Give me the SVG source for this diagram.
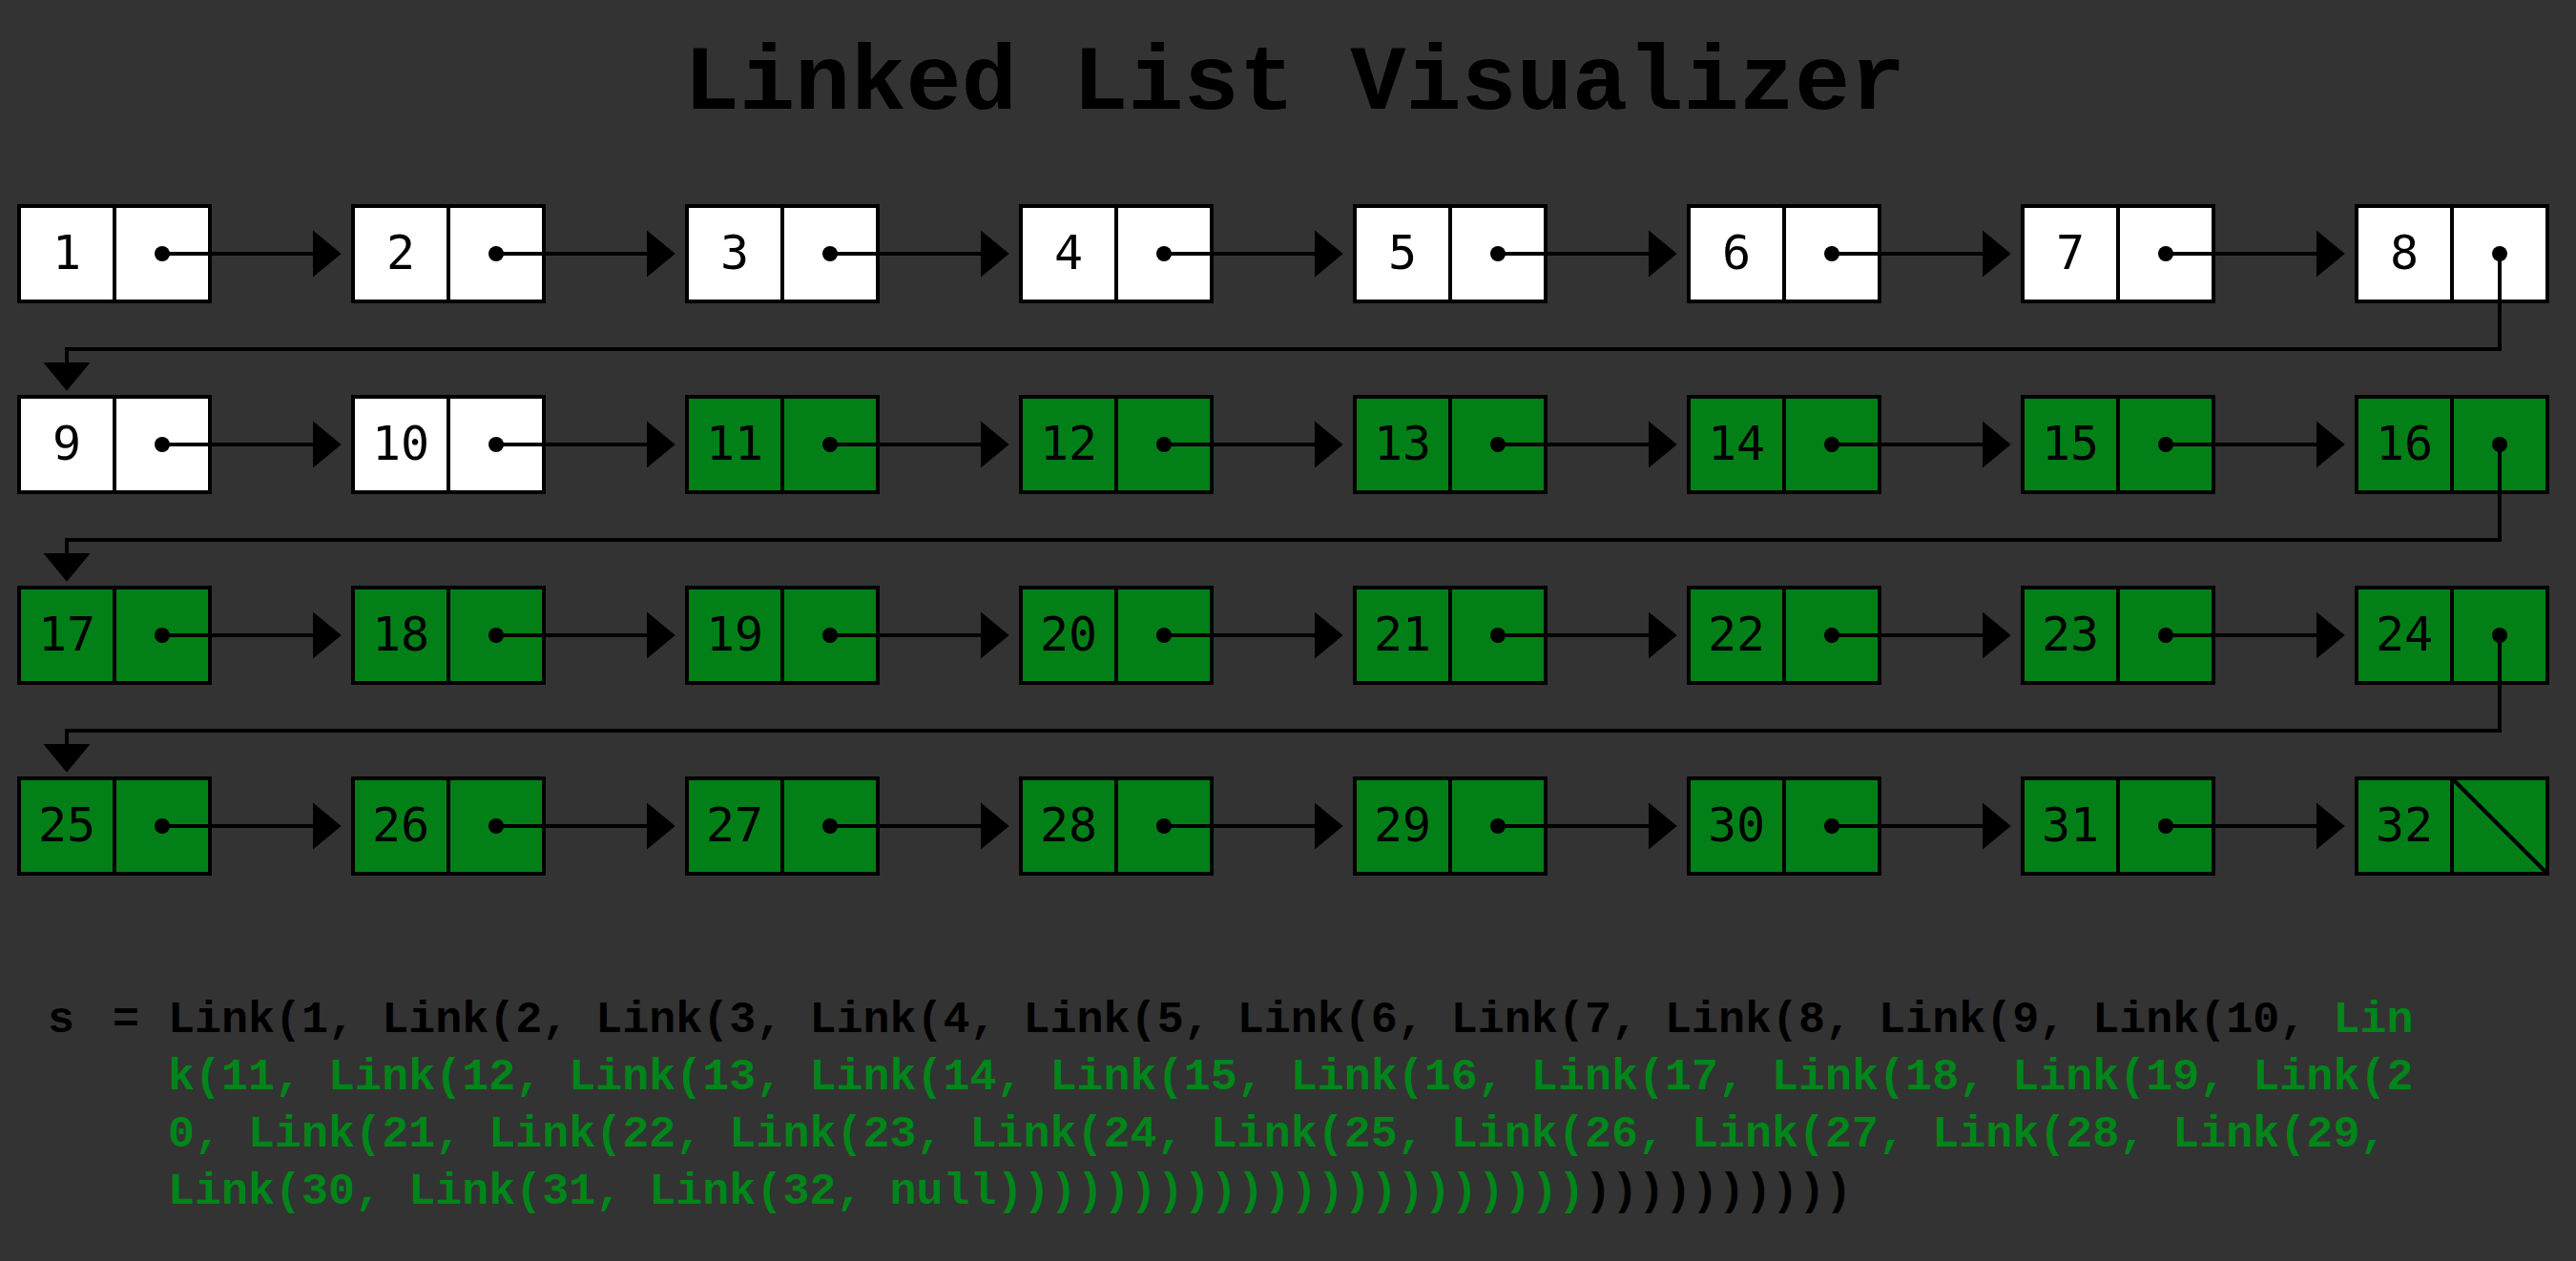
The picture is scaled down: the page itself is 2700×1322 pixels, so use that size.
<svg xmlns="http://www.w3.org/2000/svg" width="2700" height="1322" viewBox="0 0 2700 1322">
<defs>
<style>
.box{stroke:#000;stroke-width:4}
.w{fill:#fff}
.g{fill:#027f17}
.div{stroke:#000;stroke-width:4}
.val{font-family:"DejaVu Sans Mono",monospace;font-size:50px;fill:#000;text-anchor:middle}
.dot{fill:#000}
.conn{fill:none;stroke:#000;stroke-width:4}
.title{font-family:"Courier New","Liberation Mono",monospace;font-size:97px;font-weight:bold;fill:#000;text-anchor:middle}
.code{font-family:"Courier New","Liberation Mono",monospace;font-size:46.7px;font-weight:bold;white-space:pre}
.blk{fill:#000}
.grn{fill:#00851a}
</style>
<marker id="ah" markerUnits="userSpaceOnUse" markerWidth="30" markerHeight="50" viewBox="0 0 29 48" refX="9" refY="24" orient="auto">
<path d="M0,0 L29,24 L0,48 Z" fill="#000"/>
</marker>
</defs>
<rect width="2700" height="1322" fill="#333333"/>
<text class="title" x="1357" y="114">Linked List Visualizer</text>

<g id="node1"><rect class="box w" x="20" y="216" width="200" height="100"/><line class="div" x1="120" y1="216" x2="120" y2="316"/><text class="val" x="70" y="282">1</text><circle class="dot" cx="170" cy="266" r="8"/></g>
<g id="node2"><rect class="box w" x="370" y="216" width="200" height="100"/><line class="div" x1="470" y1="216" x2="470" y2="316"/><text class="val" x="420" y="282">2</text><circle class="dot" cx="520" cy="266" r="8"/></g>
<g id="node3"><rect class="box w" x="720" y="216" width="200" height="100"/><line class="div" x1="820" y1="216" x2="820" y2="316"/><text class="val" x="770" y="282">3</text><circle class="dot" cx="870" cy="266" r="8"/></g>
<g id="node4"><rect class="box w" x="1070" y="216" width="200" height="100"/><line class="div" x1="1170" y1="216" x2="1170" y2="316"/><text class="val" x="1120" y="282">4</text><circle class="dot" cx="1220" cy="266" r="8"/></g>
<g id="node5"><rect class="box w" x="1420" y="216" width="200" height="100"/><line class="div" x1="1520" y1="216" x2="1520" y2="316"/><text class="val" x="1470" y="282">5</text><circle class="dot" cx="1570" cy="266" r="8"/></g>
<g id="node6"><rect class="box w" x="1770" y="216" width="200" height="100"/><line class="div" x1="1870" y1="216" x2="1870" y2="316"/><text class="val" x="1820" y="282">6</text><circle class="dot" cx="1920" cy="266" r="8"/></g>
<g id="node7"><rect class="box w" x="2120" y="216" width="200" height="100"/><line class="div" x1="2220" y1="216" x2="2220" y2="316"/><text class="val" x="2170" y="282">7</text><circle class="dot" cx="2270" cy="266" r="8"/></g>
<g id="node8"><rect class="box w" x="2470" y="216" width="200" height="100"/><line class="div" x1="2570" y1="216" x2="2570" y2="316"/><text class="val" x="2520" y="282">8</text><circle class="dot" cx="2620" cy="266" r="8"/></g>

<g id="node9"><rect class="box w" x="20" y="416" width="200" height="100"/><line class="div" x1="120" y1="416" x2="120" y2="516"/><text class="val" x="70" y="482">9</text><circle class="dot" cx="170" cy="466" r="8"/></g>
<g id="node10"><rect class="box w" x="370" y="416" width="200" height="100"/><line class="div" x1="470" y1="416" x2="470" y2="516"/><text class="val" x="420" y="482">10</text><circle class="dot" cx="520" cy="466" r="8"/></g>
<g id="node11"><rect class="box g" x="720" y="416" width="200" height="100"/><line class="div" x1="820" y1="416" x2="820" y2="516"/><text class="val" x="770" y="482">11</text><circle class="dot" cx="870" cy="466" r="8"/></g>
<g id="node12"><rect class="box g" x="1070" y="416" width="200" height="100"/><line class="div" x1="1170" y1="416" x2="1170" y2="516"/><text class="val" x="1120" y="482">12</text><circle class="dot" cx="1220" cy="466" r="8"/></g>
<g id="node13"><rect class="box g" x="1420" y="416" width="200" height="100"/><line class="div" x1="1520" y1="416" x2="1520" y2="516"/><text class="val" x="1470" y="482">13</text><circle class="dot" cx="1570" cy="466" r="8"/></g>
<g id="node14"><rect class="box g" x="1770" y="416" width="200" height="100"/><line class="div" x1="1870" y1="416" x2="1870" y2="516"/><text class="val" x="1820" y="482">14</text><circle class="dot" cx="1920" cy="466" r="8"/></g>
<g id="node15"><rect class="box g" x="2120" y="416" width="200" height="100"/><line class="div" x1="2220" y1="416" x2="2220" y2="516"/><text class="val" x="2170" y="482">15</text><circle class="dot" cx="2270" cy="466" r="8"/></g>
<g id="node16"><rect class="box g" x="2470" y="416" width="200" height="100"/><line class="div" x1="2570" y1="416" x2="2570" y2="516"/><text class="val" x="2520" y="482">16</text><circle class="dot" cx="2620" cy="466" r="8"/></g>

<g id="node17"><rect class="box g" x="20" y="616" width="200" height="100"/><line class="div" x1="120" y1="616" x2="120" y2="716"/><text class="val" x="70" y="682">17</text><circle class="dot" cx="170" cy="666" r="8"/></g>
<g id="node18"><rect class="box g" x="370" y="616" width="200" height="100"/><line class="div" x1="470" y1="616" x2="470" y2="716"/><text class="val" x="420" y="682">18</text><circle class="dot" cx="520" cy="666" r="8"/></g>
<g id="node19"><rect class="box g" x="720" y="616" width="200" height="100"/><line class="div" x1="820" y1="616" x2="820" y2="716"/><text class="val" x="770" y="682">19</text><circle class="dot" cx="870" cy="666" r="8"/></g>
<g id="node20"><rect class="box g" x="1070" y="616" width="200" height="100"/><line class="div" x1="1170" y1="616" x2="1170" y2="716"/><text class="val" x="1120" y="682">20</text><circle class="dot" cx="1220" cy="666" r="8"/></g>
<g id="node21"><rect class="box g" x="1420" y="616" width="200" height="100"/><line class="div" x1="1520" y1="616" x2="1520" y2="716"/><text class="val" x="1470" y="682">21</text><circle class="dot" cx="1570" cy="666" r="8"/></g>
<g id="node22"><rect class="box g" x="1770" y="616" width="200" height="100"/><line class="div" x1="1870" y1="616" x2="1870" y2="716"/><text class="val" x="1820" y="682">22</text><circle class="dot" cx="1920" cy="666" r="8"/></g>
<g id="node23"><rect class="box g" x="2120" y="616" width="200" height="100"/><line class="div" x1="2220" y1="616" x2="2220" y2="716"/><text class="val" x="2170" y="682">23</text><circle class="dot" cx="2270" cy="666" r="8"/></g>
<g id="node24"><rect class="box g" x="2470" y="616" width="200" height="100"/><line class="div" x1="2570" y1="616" x2="2570" y2="716"/><text class="val" x="2520" y="682">24</text><circle class="dot" cx="2620" cy="666" r="8"/></g>

<g id="node25"><rect class="box g" x="20" y="816" width="200" height="100"/><line class="div" x1="120" y1="816" x2="120" y2="916"/><text class="val" x="70" y="882">25</text><circle class="dot" cx="170" cy="866" r="8"/></g>
<g id="node26"><rect class="box g" x="370" y="816" width="200" height="100"/><line class="div" x1="470" y1="816" x2="470" y2="916"/><text class="val" x="420" y="882">26</text><circle class="dot" cx="520" cy="866" r="8"/></g>
<g id="node27"><rect class="box g" x="720" y="816" width="200" height="100"/><line class="div" x1="820" y1="816" x2="820" y2="916"/><text class="val" x="770" y="882">27</text><circle class="dot" cx="870" cy="866" r="8"/></g>
<g id="node28"><rect class="box g" x="1070" y="816" width="200" height="100"/><line class="div" x1="1170" y1="816" x2="1170" y2="916"/><text class="val" x="1120" y="882">28</text><circle class="dot" cx="1220" cy="866" r="8"/></g>
<g id="node29"><rect class="box g" x="1420" y="816" width="200" height="100"/><line class="div" x1="1520" y1="816" x2="1520" y2="916"/><text class="val" x="1470" y="882">29</text><circle class="dot" cx="1570" cy="866" r="8"/></g>
<g id="node30"><rect class="box g" x="1770" y="816" width="200" height="100"/><line class="div" x1="1870" y1="816" x2="1870" y2="916"/><text class="val" x="1820" y="882">30</text><circle class="dot" cx="1920" cy="866" r="8"/></g>
<g id="node31"><rect class="box g" x="2120" y="816" width="200" height="100"/><line class="div" x1="2220" y1="816" x2="2220" y2="916"/><text class="val" x="2170" y="882">31</text><circle class="dot" cx="2270" cy="866" r="8"/></g>
<g id="node32"><rect class="box g" x="2470" y="816" width="200" height="100"/><line class="div" x1="2570" y1="816" x2="2570" y2="916"/><text class="val" x="2520" y="882">32</text><line class="div" x1="2570" y1="816" x2="2670" y2="916"/></g>

<g id="connectors">
<line class="conn" x1="170" y1="266" x2="337" y2="266" marker-end="url(#ah)"/>
<line class="conn" x1="520" y1="266" x2="687" y2="266" marker-end="url(#ah)"/>
<line class="conn" x1="870" y1="266" x2="1037" y2="266" marker-end="url(#ah)"/>
<line class="conn" x1="1220" y1="266" x2="1387" y2="266" marker-end="url(#ah)"/>
<line class="conn" x1="1570" y1="266" x2="1737" y2="266" marker-end="url(#ah)"/>
<line class="conn" x1="1920" y1="266" x2="2087" y2="266" marker-end="url(#ah)"/>
<line class="conn" x1="2270" y1="266" x2="2437" y2="266" marker-end="url(#ah)"/>
<polyline class="conn" points="2620,266 2620,366 70,366 70,389" marker-end="url(#ah)"/>
<line class="conn" x1="170" y1="466" x2="337" y2="466" marker-end="url(#ah)"/>
<line class="conn" x1="520" y1="466" x2="687" y2="466" marker-end="url(#ah)"/>
<line class="conn" x1="870" y1="466" x2="1037" y2="466" marker-end="url(#ah)"/>
<line class="conn" x1="1220" y1="466" x2="1387" y2="466" marker-end="url(#ah)"/>
<line class="conn" x1="1570" y1="466" x2="1737" y2="466" marker-end="url(#ah)"/>
<line class="conn" x1="1920" y1="466" x2="2087" y2="466" marker-end="url(#ah)"/>
<line class="conn" x1="2270" y1="466" x2="2437" y2="466" marker-end="url(#ah)"/>
<polyline class="conn" points="2620,466 2620,566 70,566 70,589" marker-end="url(#ah)"/>
<line class="conn" x1="170" y1="666" x2="337" y2="666" marker-end="url(#ah)"/>
<line class="conn" x1="520" y1="666" x2="687" y2="666" marker-end="url(#ah)"/>
<line class="conn" x1="870" y1="666" x2="1037" y2="666" marker-end="url(#ah)"/>
<line class="conn" x1="1220" y1="666" x2="1387" y2="666" marker-end="url(#ah)"/>
<line class="conn" x1="1570" y1="666" x2="1737" y2="666" marker-end="url(#ah)"/>
<line class="conn" x1="1920" y1="666" x2="2087" y2="666" marker-end="url(#ah)"/>
<line class="conn" x1="2270" y1="666" x2="2437" y2="666" marker-end="url(#ah)"/>
<polyline class="conn" points="2620,666 2620,766 70,766 70,789" marker-end="url(#ah)"/>
<line class="conn" x1="170" y1="866" x2="337" y2="866" marker-end="url(#ah)"/>
<line class="conn" x1="520" y1="866" x2="687" y2="866" marker-end="url(#ah)"/>
<line class="conn" x1="870" y1="866" x2="1037" y2="866" marker-end="url(#ah)"/>
<line class="conn" x1="1220" y1="866" x2="1387" y2="866" marker-end="url(#ah)"/>
<line class="conn" x1="1570" y1="866" x2="1737" y2="866" marker-end="url(#ah)"/>
<line class="conn" x1="1920" y1="866" x2="2087" y2="866" marker-end="url(#ah)"/>
<line class="conn" x1="2270" y1="866" x2="2437" y2="866" marker-end="url(#ah)"/>
</g>

<g id="code">
<text class="code blk" y="1082"><tspan x="50">s</tspan><tspan x="118">=</tspan></text>
<text class="code" x="176" y="1082"><tspan class="blk">Link(1, Link(2, Link(3, Link(4, Link(5, Link(6, Link(7, Link(8, Link(9, Link(10, </tspan><tspan class="grn">Lin</tspan></text>
<text class="code grn" x="176" y="1142">k(11, Link(12, Link(13, Link(14, Link(15, Link(16, Link(17, Link(18, Link(19, Link(2</text>
<text class="code grn" x="176" y="1202">0, Link(21, Link(22, Link(23, Link(24, Link(25, Link(26, Link(27, Link(28, Link(29,</text>
<text class="code" x="176" y="1262"><tspan class="grn">Link(30, Link(31, Link(32, null))))))))))))))))))))))</tspan><tspan class="blk">))))))))))</tspan></text>
</g>
</svg>
